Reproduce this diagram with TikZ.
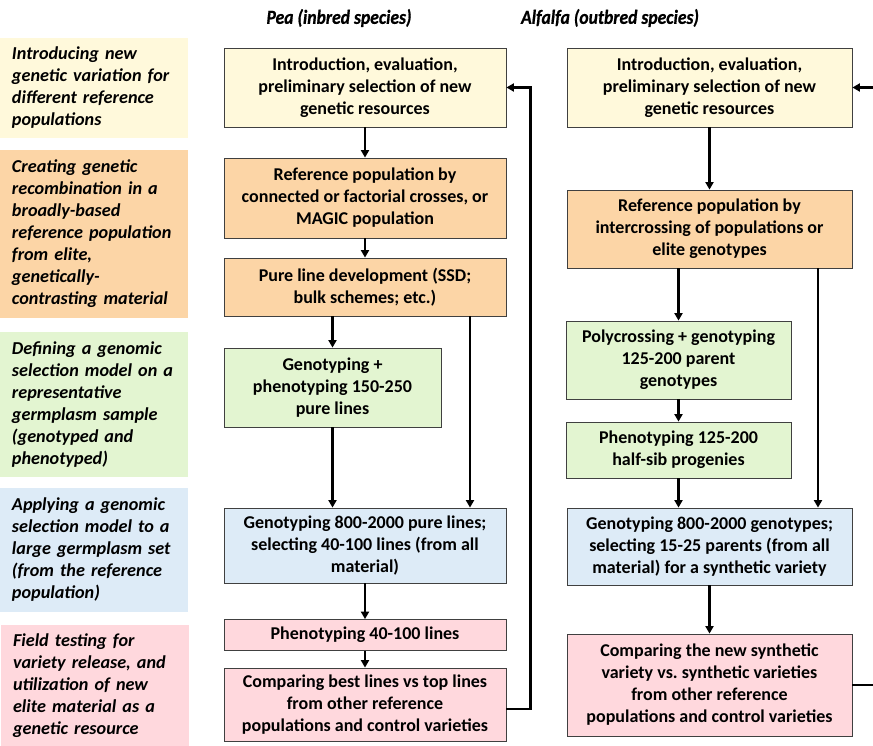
\documentclass[tikz,border=0pt]{standalone}
\usepackage{fontspec}
\setmainfont{Carlito}
\newfontfamily\headfont{Carlito}[FakeBold=0.8]
\usetikzlibrary{arrows.meta}

\definecolor{cYellow}{RGB}{255,249,219}
\definecolor{cOrange}{RGB}{252,213,166}
\definecolor{cGreen}{RGB}{227,245,209}
\definecolor{cBlue}{RGB}{221,235,247}
\definecolor{cPink}{RGB}{255,216,221}
\definecolor{cEdge}{RGB}{64,64,64}

\tikzset{
  stage/.style={draw=cEdge, line width=0.8pt, align=center, inner sep=2pt,
    font=\fontsize{18}{22}\selectfont\bfseries\frenchspacing},
  band/.style={align=left, inner xsep=12pt, inner ysep=0pt, text width=164pt,
    font=\fontsize{18.2}{22}\selectfont\bfseries\itshape},
  colhead/.style={inner sep=1pt, font=\headfont\fontsize{20}{24}\selectfont\bfseries\itshape},
  arr/.style={line width=2.4pt, -{Triangle[length=7.5pt,width=8pt]}},
}

\begin{document}
\begin{tikzpicture}[x=1pt,y=1pt]
\useasboundingbox (0,0) rectangle (873,-746);
\clip (0,0) rectangle (873,-746);

% column headers
\node[colhead] (hpea) at (339,-18) {\scalebox{0.88}[1]{Pea (inbred species)}};
\node[colhead] (half) at (610,-18) {\scalebox{0.88}[1]{Alfalfa (outbred species)}};

% stage bands on the left
\node[band, fill=cYellow, minimum height=100pt] (l1) at (94,-88)
  {Introducing new\\genetic variation for\\different reference\\populations};
\node[band, fill=cOrange, minimum height=168pt] (l2) at (94,-234)
  {Creating genetic\\recombination in a\\broadly-based\\reference population\\from elite,\\genetically-\\contrasting material};
\node[band, fill=cGreen, minimum height=145pt] (l3) at (94,-404.5)
  {Defining a genomic\\selection model on a\\representative\\germplasm sample\\(genotyped and\\phenotyped)};
\node[band, fill=cBlue, minimum height=124pt] (l4) at (94,-550)
  {Applying a genomic\\selection model to a\\large germplasm set\\(from the reference\\population)};
\node[band, fill=cPink, minimum height=121pt] (l5) at (95,-685.5)
  {Field testing for\\variety release, and\\utilization of new\\elite material as a\\genetic resource};

% pea column
\node[stage, fill=cYellow, minimum width=282pt, minimum height=79pt] (p1) at (365,-87.5)
  {Introduction, evaluation,\\preliminary selection of new\\genetic resources};
\node[stage, fill=cOrange, minimum width=282pt, minimum height=80pt] (p2) at (365,-198)
  {Reference population by\\connected or factorial crosses, or\\MAGIC population};
\node[stage, fill=cOrange, minimum width=282pt, minimum height=58pt] (p3) at (365,-287)
  {Pure line development (SSD;\\bulk schemes; etc.)};
\node[stage, fill=cGreen, minimum width=217pt, minimum height=79pt] (p4) at (332.5,-387.5)
  {Genotyping +\\phenotyping 150-250\\pure lines};
\node[stage, fill=cBlue, minimum width=282pt, minimum height=75pt] (p5) at (365,-545.5)
  {Genotyping 800-2000 pure lines;\\selecting 40-100 lines (from all\\material)};
\node[stage, fill=cPink, minimum width=282pt, minimum height=31pt] (p6) at (365,-635)
  {Phenotyping 40-100 lines};
\node[stage, fill=cPink, minimum width=282pt, minimum height=73pt] (p7) at (365,-704.5)
  {Comparing best lines vs top lines\\from other reference\\populations and control varieties};

% alfalfa column
\node[stage, fill=cYellow, minimum width=285pt, minimum height=79pt] (a1) at (709.5,-87.5)
  {Introduction, evaluation,\\preliminary selection of new\\genetic resources};
\node[stage, fill=cOrange, minimum width=285pt, minimum height=78pt] (a2) at (709.5,-229)
  {Reference population by\\intercrossing of populations or\\elite genotypes};
\node[stage, fill=cGreen, minimum width=225pt, minimum height=78pt] (a3) at (678.5,-360)
  {Polycrossing + genotyping\\125-200 parent\\genotypes};
\node[stage, fill=cGreen, minimum width=225pt, minimum height=56pt] (a4) at (678.5,-450)
  {Phenotyping 125-200\\half-sib progenies};
\node[stage, fill=cBlue, minimum width=285pt, minimum height=77pt] (a5) at (709.5,-546.5)
  {Genotyping 800-2000 genotypes;\\selecting 15-25 parents (from all\\material) for a synthetic variety};
\node[stage, fill=cPink, minimum width=285pt, minimum height=102pt] (a6) at (709.5,-685)
  {Comparing the new synthetic\\variety vs. synthetic varieties\\from other reference\\populations and control varieties};

% bypass rails
\coordinate (prail) at (470,0);
\coordinate (arail) at (818,0);

% pea flow
\draw[arr] (p1) -- (p2);
\draw[arr] (p2) -- (p3);
\draw[arr] (p3.south -| p4.north) -- (p4.north);
\draw[arr] (p3.south -| prail) -- (p5.north -| prail);
\draw[arr] (p4.south) -- (p5.north -| p4.south);
\draw[arr] (p5) -- (p6);
\draw[arr] (p6) -- (p7);
\draw[arr] ([yshift=-4.5pt]p7.east) -- ++(24,0) |- (p1.east);

% alfalfa flow
\draw[arr] (a1) -- (a2);
\draw[arr] (a2.south -| a3.north) -- (a3.north);
\draw[arr] (a2.south -| arail) -- (a5.north -| arail);
\draw[arr] (a3) -- (a4);
\draw[arr] (a4.south) -- (a5.north -| a4.south);
\draw[arr] (a5) -- (a6);
\draw[arr] (a6.east) -- ++(40,0) |- (a1.east);
\end{tikzpicture}
\end{document}
